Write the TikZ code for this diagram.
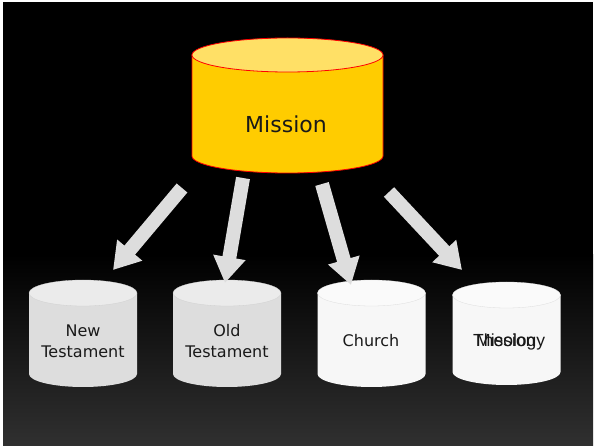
\documentclass[tikz,border=0pt]{standalone}
\usepackage{fontspec}
\setmainfont{DejaVu Sans}
\newfontfamily\arialfont{Liberation Sans}
\usetikzlibrary{arrows.meta}
\definecolor{bigbody}{HTML}{FFCC00}
\definecolor{bigtop}{HTML}{FFE066}
\definecolor{greybody}{HTML}{DDDDDD}
\definecolor{greytop}{HTML}{EBEBEB}
\definecolor{whitebody}{HTML}{F7F7F7}
\definecolor{whitetop}{HTML}{FAFAFA}
\definecolor{arrowgrey}{HTML}{DDDDDD}
\definecolor{bgbottom}{HTML}{303030}
\tikzset{
  label text/.style={font=\fontsize{16}{21}\selectfont, text=black!90, align=center, inner sep=0pt},
  arial text/.style={font=\arialfont\fontsize{17.5}{21}\selectfont, text=black!90, inner sep=0pt, anchor=base west},
  block arrow/.style={draw=arrowgrey, line width=14pt, -{Triangle[width=31pt,length=26pt]}},
}
\begin{document}
\begin{tikzpicture}[x=1pt,y=-1pt]
\useasboundingbox (0,0) rectangle (595,446);
% background with thin white frame
\fill[white] (0,0) rectangle (595,446);
\fill[black] (3,2) rectangle (593,256);
\shade[top color=black, bottom color=bgbottom] (3,255) rectangle (593,446);

% big cylinder
\path[fill=bigbody, draw=red, line width=0.8pt] (192,55) -- (192,156)
  arc[start angle=180, end angle=0, x radius=95.5, y radius=17] -- (383,55) -- cycle;
\path[fill=bigtop, draw=red, line width=0.8pt] (287.5,55) ellipse [x radius=95.5, y radius=17];
\node[label text, font=\fontsize{22}{26}\selectfont] (mission) at (286,124) {Mission};

% small cylinders: centre x, top y, bottom y, body colour, top colour
\foreach \cx/\ty/\by/\bc/\tc in {83/293/374/greybody/greytop, 227/293/374/greybody/greytop, 371.5/293/374/whitebody/whitetop, 506.5/295/372/whitebody/whitetop}{
  \path[fill=\bc] (\cx-54,\ty) -- (\cx-54,\by)
    arc[start angle=180, end angle=0, x radius=54, y radius=13] -- (\cx+54,\ty) -- cycle;
  \path[fill=\tc, draw=\bc!80!black!60!white, line width=0.3pt] (\cx,\ty) ellipse [x radius=54, y radius=13];
}
\node[label text] (nt) at (83,341) {New\\Testament};
\node[label text] (ot) at (227,341) {Old\\Testament};
\node[label text] (church) at (371,341) {Church};
\node[arial text] (theology) at (473,347) {Theology};
\node[arial text] (mission2) at (476,347) {Mission};

% arrows
\coordinate (a1s) at (182,188); \coordinate (a1e) at (113,270);
\coordinate (a2s) at (243,178); \coordinate (a2e) at (225,283);
\coordinate (a3s) at (322,184); \coordinate (a3e) at (351,285);
\coordinate (a4s) at (389,192); \coordinate (a4e) at (462,270);
\draw[block arrow] (a1s) -- (a1e);
\draw[block arrow] (a2s) -- (a2e);
\draw[block arrow] (a3s) -- (a3e);
\draw[block arrow] (a4s) -- (a4e);
\end{tikzpicture}
\end{document}
